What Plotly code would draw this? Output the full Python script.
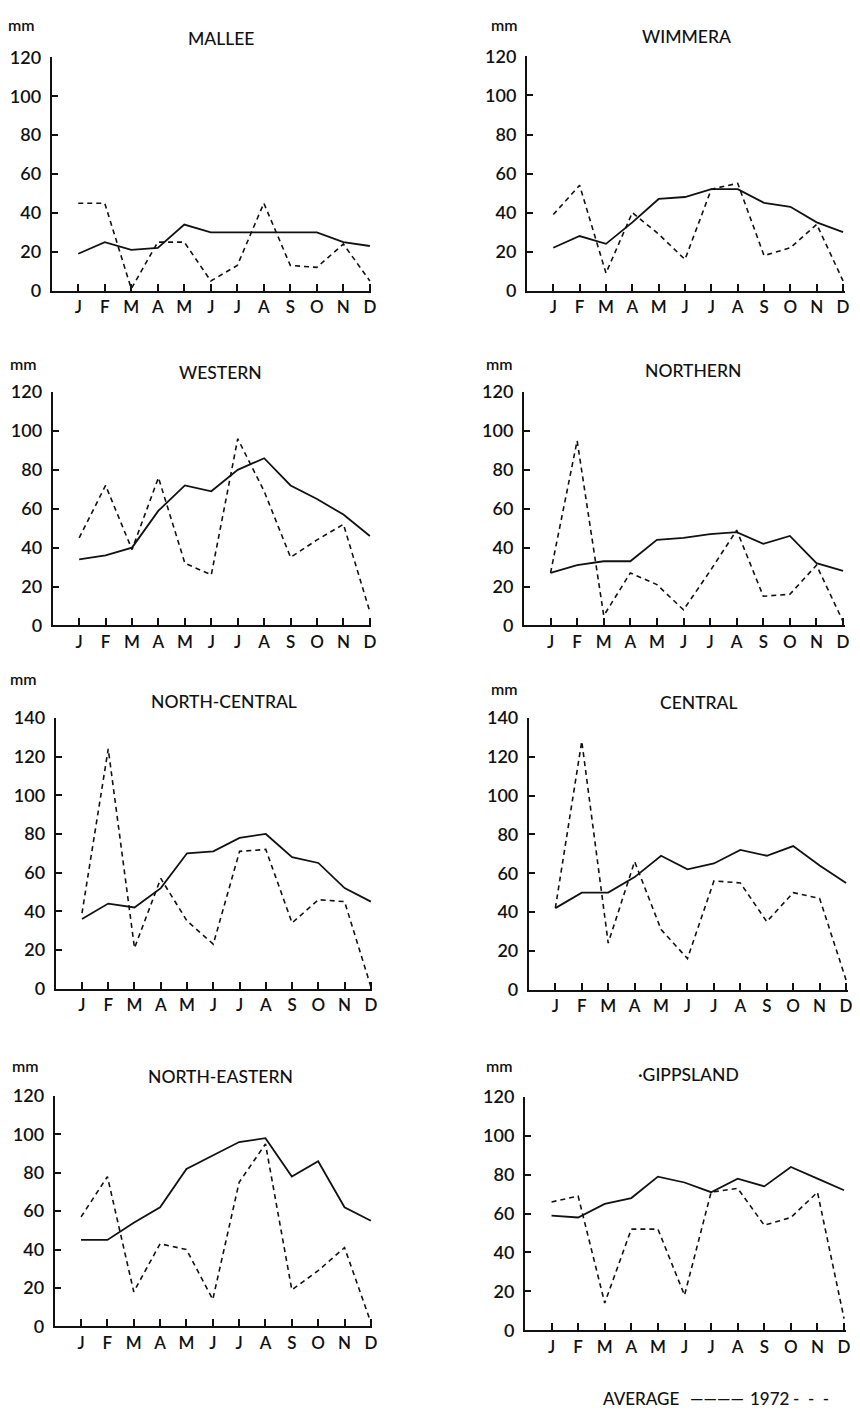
import plotly.graph_objects as go

months = ["J", "F", "M", "A", "M", "J", "J", "A", "S", "O", "N", "D"]

# Monthly rainfall (mm): average vs 1972
mallee_avg = [19, 25, 21, 22, 34, 30, 30, 30, 30, 30, 25, 23]
mallee_1972 = [45, 45, 1, 25, 25, 5, 13, 45, 13, 12, 24, 5]

wimmera_avg = [22, 28, 24, 35, 47, 48, 52, 52, 45, 43, 35, 30]
wimmera_1972 = [39, 54, 9, 40, 29, 16, 52, 55, 18, 22, 34, 5]

western_avg = [34, 36, 40, 59, 72, 69, 80, 86, 72, 65, 57, 46]
western_1972 = [45, 72, 39, 76, 32, 26, 96, 69, 35, 44, 52, 7]

northern_avg = [27, 31, 33, 33, 44, 45, 47, 48, 42, 46, 32, 28]
northern_1972 = [27, 95, 5, 27, 21, 8, 28, 49, 15, 16, 31, 2]

north_central_avg = [36, 44, 42, 52, 70, 71, 78, 80, 68, 65, 52, 45]
north_central_1972 = [39, 124, 21, 57, 35, 23, 71, 72, 34, 46, 45, 1]

central_avg = [42, 50, 50, 58, 69, 62, 65, 72, 69, 74, 64, 55]
central_1972 = [42, 128, 24, 66, 31, 16, 56, 55, 35, 50, 47, 5]

north_eastern_avg = [45, 45, 54, 62, 82, 89, 96, 98, 78, 86, 62, 55]
north_eastern_1972 = [57, 78, 18, 43, 40, 14, 75, 95, 19, 29, 41, 2]

gippsland_avg = [59, 58, 65, 68, 79, 76, 71, 78, 74, 84, 78, 72]
gippsland_1972 = [66, 69, 14, 52, 52, 18, 71, 73, 54, 58, 71, 6]

region_names = ["MALLEE", "WIMMERA", "WESTERN", "NORTHERN",
                "NORTH-CENTRAL", "CENTRAL", "NORTH-EASTERN", "·GIPPSLAND"]
avg_series = [mallee_avg, wimmera_avg, western_avg, northern_avg,
              north_central_avg, central_avg, north_eastern_avg, gippsland_avg]
y1972_series = [mallee_1972, wimmera_1972, western_1972, northern_1972,
                north_central_1972, central_1972, north_eastern_1972, gippsland_1972]
y_max = [120, 120, 120, 120, 140, 140, 120, 120]

# Layout geometry in page pixels: (axis_x, last_month_x, top_y, zero_y, title_x, title_y, mm_x, mm_y)
PAGE_W, PAGE_H = 860, 1419
OFF = 8  # default page margin of the HTML body
W, H = PAGE_W - OFF, PAGE_H - OFF
geom = [
    (52, 372, 46, 283, 222, 27, 22, 13),
    (530, 848, 45, 283, 691, 25, 507, 13),
    (53, 372, 386, 623, 222, 366, 24, 357),
    (527, 848, 386, 623, 697, 364, 502, 357),
    (56, 373, 717, 992, 225, 700, 24, 677),
    (532, 851, 717, 993, 703, 701, 507, 687),
    (55, 373, 1101, 1335, 222, 1081, 26, 1070),
    (528, 849, 1102, 1339, 693, 1079, 502, 1070),
]


def px(x):
    return (x - OFF) / W


def py(y):
    return 1 - (y - OFF) / H


FONT = "Lato, 'Open Sans', sans-serif"
INK = "#111111"

fig = go.Figure()
annotations = []
xs = list(range(12))
for i in range(8):
    ax_x, d_x, top_y, zero_y, tx, ty, mx, my = geom[i]
    n = i + 1
    xa = "x" if n == 1 else f"x{n}"
    ya = "y" if n == 1 else f"y{n}"
    fig.add_trace(go.Scatter(x=xs, y=avg_series[i], mode="lines", xaxis=xa, yaxis=ya,
                             line=dict(color=INK, width=1.8), showlegend=False,
                             name="Average"))
    fig.add_trace(go.Scatter(x=xs, y=y1972_series[i], mode="lines", xaxis=xa, yaxis=ya,
                             line=dict(color=INK, width=1.6, dash="5px,4px"),
                             showlegend=False, name="1972"))
    spacing = (d_x - ax_x) / 12.0
    pad = 0.06
    xdom = [px(ax_x), px(d_x + pad * spacing)]
    ydom = [py(zero_y), py(top_y)]
    xkey = "xaxis" if n == 1 else f"xaxis{n}"
    ykey = "yaxis" if n == 1 else f"yaxis{n}"
    fig.update_layout(**{
        xkey: dict(domain=xdom, anchor=ya, range=[-1, 11 + pad],
                   tickvals=xs, ticktext=months, ticks="inside", ticklen=7,
                   tickwidth=1.6, tickcolor=INK, showline=True, linewidth=2,
                   linecolor=INK, showgrid=False, zeroline=False,
                   tickfont=dict(family=FONT, size=17, color=INK, weight=600),
                   fixedrange=True),
        ykey: dict(domain=ydom, anchor=xa, range=[0, y_max[i]],
                   tickvals=list(range(0, y_max[i] + 1, 20)),
                   ticks="inside", ticklen=6, tickwidth=1.6, tickcolor=INK,
                   showline=True, linewidth=2, linecolor=INK, showgrid=False,
                   zeroline=False, ticklabelstandoff=5,
                   tickfont=dict(family=FONT, size=18, color=INK, weight=600),
                   fixedrange=True),
    })
    annotations.append(dict(text=region_names[i], x=px(tx), y=py(ty),
                            xref="paper", yref="paper", showarrow=False,
                            xanchor="center", yanchor="middle",
                            font=dict(family=FONT, size=17.5, color=INK, weight=500)))
    annotations.append(dict(text="mm", x=px(mx), y=py(my),
                            xref="paper", yref="paper", showarrow=False,
                            xanchor="center", yanchor="middle",
                            font=dict(family=FONT, size=16, color=INK, weight=600)))

legend_parts = [("AVERAGE", 605), ("————", 692), ("1972", 752),
                ("-\u00a0\u00a0-\u00a0\u00a0-", 796)]
for txt, lx in legend_parts:
    annotations.append(dict(text=txt, x=px(lx), y=py(1408),
                            xref="paper", yref="paper", showarrow=False,
                            xanchor="left", yanchor="middle",
                            font=dict(family=FONT, size=17, color=INK, weight=500)))

fig.update_layout(width=W, height=H, margin=dict(l=0, r=0, t=0, b=0),
                  paper_bgcolor="white", plot_bgcolor="white",
                  annotations=annotations, showlegend=False)

fig.write_html("out.html")
